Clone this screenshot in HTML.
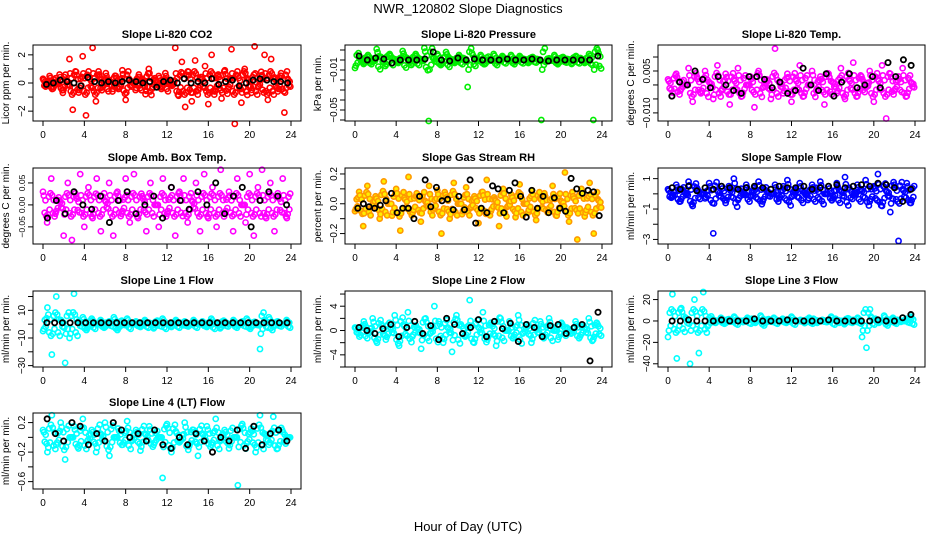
<!DOCTYPE html>
<html><head><meta charset="utf-8"><style>
body{margin:0;background:#fff}
svg{display:block;font-family:"Liberation Sans",sans-serif}
</style></head><body>
<svg id="c" width="936" height="540">
<text x="468" y="13" text-anchor="middle" font-size="13">NWR_120802  Slope Diagnostics</text>
<text x="468" y="531" text-anchor="middle" font-size="13">Hour of Day (UTC)</text>
</svg>
<script>
const xTicks=[0,4,8,12,16,20,24];
const co2Vals=[0.3,-0.2,0.5,-0.4,0.1,0.6,-0.7,0.2,1.7,-1.9,0.8,-0.5,1.9,-2.3,0.4,2.5,-1.3,0.6,-0.3,0.7,0.2,-0.6,0.5,-0.4,0.9,-1.2,0.3,0.1,-0.5,0.6,0.3,-0.8,1.0,-0.4,0.2,0.5,-0.3,0.7,0.1,-0.2,2.5,-0.9,1.5,-1.7,0.8,-1.3,1.6,-0.5,0.4,1.2,-1.5,2.0,-0.6,0.6,-1.1,0.9,-0.4,2.4,-2.9,0.5,-1.4,1.0,0.3,-0.7,2.6,-0.3,0.8,2.0,-1.2,1.7,0.4,-0.6,0.7,-2.1,0.3];
const co2Black=[-0.1,0,0.2,0.1,0,-0.2,0.4,0.1,0,0.1,0,0.1,0.2,0.1,0,0.1,-0.3,0.1,0.2,0,0.3,0,0.1,0,0.3,-0.1,0.1,0.2,-0.2,0,0.2,0.3,0.2,0.1,0.1,0];
const presVals=[-0.008,0.002,-0.004,0.005,-0.002,0.011,0.003,-0.006,0.006,0.001,-0.003,0.009,0.002,-0.005,0.006,0.001,0.012,-0.061,0.002,0.006,-0.004,0.008,0.001,-0.003,0.005,0.002,-0.027,0.007,0.001,0.005,-0.004,0.001,0.006,-0.002,0.004,0.001,0.005,-0.002,0.004,0.001,-0.003,0.003,0.001,-0.06,-0.002,0.001,0.005,-0.003,0.003,0.001,-0.004,0.004,0.002,-0.003,0.006,-0.06,0.01];
const presBlack=[0.004,0.0,0.002,0.001,-0.003,0.0,0.0,0.0,0.001,0.008,0.0,-0.001,0.002,0.0,0.001,0.0,0.0,0.0,0.001,0.0,0.0,0.001,0.0,-0.001,0.0,0.0,0.0,0.0,0.0,0.004];
const tempVals=[0.002,-0.004,0.004,-0.002,0.0,0.006,-0.006,0.003,-0.003,0.005,0.001,-0.005,0.007,-0.002,0.004,-0.007,0.002,0.006,-0.004,0.0,0.003,-0.008,0.005,-0.001,0.002,-0.005,0.013,0.001,-0.003,0.004,-0.006,0.002,0.007,-0.004,0.0,0.005,-0.002,0.003,-0.007,0.004,0.001,-0.003,0.006,-0.005,0.002,0.008,-0.004,0.003,-0.001,0.005,-0.006,0.002,0.007,-0.012,0.004,-0.002,0.003,0.006,-0.004,0.001];
const tempBlack=[-0.004,0.001,0.0,0.005,0.002,-0.001,0.003,0.0,-0.002,-0.003,0.003,0.003,0.002,-0.001,0.001,-0.003,-0.002,0.006,0.0,-0.002,0.004,-0.004,0.001,0.004,-0.001,0.0,0.003,-0.001,0.008,0.003,0.009,0.007];
const ambVals=[0.03,-0.04,0.06,-0.02,0.01,-0.07,0.05,-0.08,0.02,0.07,-0.05,0.04,-0.03,0.06,-0.06,0.01,0.05,-0.07,0.03,-0.02,0.06,-0.04,0.07,-0.03,0.02,-0.06,0.05,0.0,-0.05,0.06,-0.02,0.04,-0.07,0.03,0.06,-0.04,0.01,0.05,-0.06,0.07,-0.03,0.04,-0.05,0.08,-0.02,0.03,-0.06,0.06,0.0,-0.04,0.07,-0.07,0.04,0.08,-0.03,0.05,-0.06,0.02,0.06,-0.03];
const ambBlack=[-0.03,0.01,-0.02,0.03,0.0,-0.01,0.02,-0.04,0.01,0.03,-0.02,0.0,0.02,-0.03,0.04,0.01,-0.01,0.03,0.0,0.05,-0.02,0.02,0.04,-0.05,0.01,0.03,0.02,0.0];
const rhVals=[-0.05,0.08,-0.15,0.12,-0.02,0.05,-0.1,0.15,0.0,-0.08,0.1,-0.18,0.04,0.18,-0.06,0.07,-0.12,0.02,0.12,-0.04,0.09,-0.2,0.06,-0.1,0.14,0.0,-0.07,0.11,-0.03,0.05,-0.13,0.08,0.16,-0.05,0.03,-0.15,0.1,-0.02,0.06,-0.09,0.13,0.0,-0.06,0.09,-0.11,0.04,0.07,-0.04,0.12,-0.08,0.02,0.21,-0.12,0.05,-0.24,0.1,-0.06,0.14,-0.2,0.03];
const rhBlack=[-0.03,0.0,-0.02,-0.03,-0.01,0.02,0.07,-0.06,-0.03,-0.03,-0.1,0.05,0.16,-0.02,0.11,0.02,0.03,-0.04,0.05,-0.04,0.16,-0.13,-0.03,-0.06,0.12,0.1,-0.06,0.09,0.14,0.05,-0.09,0.09,-0.03,0.05,-0.06,0.04,-0.03,-0.05,0.17,0.1,0.07,0.09,0.08,-0.08];
const sfVals=[0.3,-0.2,0.6,-0.5,0.1,0.8,-0.8,0.4,0.0,-0.3,0.7,-2.6,0.2,0.5,-0.6,0.3,1.0,-0.4,0.1,0.6,-0.2,0.4,0.8,-0.5,0.2,0.0,0.6,-0.3,0.5,0.9,-0.2,0.3,0.7,0.1,-0.4,0.6,0.4,0.8,0.0,0.5,-0.3,0.7,0.2,1.1,0.4,-0.1,0.6,0.3,0.9,-0.5,0.5,1.3,-0.8,0.2,-1.2,0.6,-3.1,0.3,0.7,-0.6];
const sfBlack=[0.4,0.3,0.5,0.2,0.4,0.3,0.5,0.4,0.3,0.4,0.5,0.4,0.3,0.5,0.4,0.4,0.5,0.3,0.4,0.5,0.6,0.4,0.5,0.6,0.5,0.7,0.6,0.4,-0.5,0.3];
const l1Vals=[-5,12,-22,20,3,-28,-10,22,2,5,-3,4,0,3,-2,2,5,-3,1,4,0,2,-2,3,1,-3,2,4,0,-2,3,1,2,-1,3,0,2,-2,4,1,-3,2,0,3,-1,2,4,-2,1,-18,3,5,-2,2,0,3];
const l1Black=[1,1,1,1,1,1,1,1,1,1,1,1,1,1,1,1,1,1,1,1,1,1,1,1,1,1,1,1,1,1,1,1];
const l2Vals=[0.5,-1,1.5,-0.5,2,-2,1,-1.5,0.5,2.5,-2.5,1,3,-1,0.5,-3,2,-0.5,4,1.5,-2,0.5,-3.5,2.5,1,-1,5,-2,0.5,3,-1.5,1,-2.5,2,0,1.5,-1,2.5,-0.5,1,-2,0.5,1.5,-1,2,0,-1.5,1,0.5,-0.5,1.5,-1,0.5,2,-1.5,1];
const l2Black=[0.5,0,-0.5,0.3,1,-1,0.5,1.5,-0.5,0.8,-1.5,2,1,-0.5,0.5,1.8,-1,1.5,0.3,1.2,-1.8,1,0.5,-1,0.8,1,-0.5,0.5,1,-5,3];
const l3Vals=[-15,25,-35,12,3,-40,20,-30,27,-5,2,0,3,-2,1,4,0,-1,3,2,0,5,-2,1,3,0,2,-1,4,0,1,-2,3,2,0,1,-1,4,2,0,-3,2,1,3,-15,-25,4,2,0,5,-2,3,1,0,2,4];
const l3Black=[0,0,1,0,0,0,1,0,0,0,2,0,0,0,1,0,0,0,0,1,0,0,0,0,0,1,0,0,3,6];
const l4Vals=[0.1,-0.2,0.3,-0.1,0.2,-0.3,0.0,0.15,-0.15,0.25,-0.05,0.1,-0.2,0.05,0.2,-0.25,0.0,0.12,-0.1,0.22,-0.05,0.1,-0.18,0.05,0.15,-0.1,0.0,-0.55,0.18,-0.2,0.08,-0.05,0.2,-0.12,0.1,-0.25,0.05,0.15,-0.1,0.25,-0.05,0.1,-0.15,0.0,-0.65,0.18,-0.08,0.12,-0.2,0.3,0.05,-0.1,0.28,-0.15,0.1,0.0];
const l4Black=[0.25,0.05,-0.05,0.2,0.15,-0.1,0.05,-0.05,0.2,0.1,0.0,0.05,-0.05,0.1,-0.1,-0.15,0.0,-0.1,0.05,-0.05,-0.2,0.0,-0.05,0.1,-0.15,0.15,-0.1,0.05,0.1,-0.05];

const NS="http://www.w3.org/2000/svg";
const svg=document.getElementById('c');
function el(t,a,p){const e=document.createElementNS(NS,t);for(const k in a)e.setAttribute(k,a[k]);(p||svg).appendChild(e);return e;}
const cols=[[33,301],[345,612],[658,925]];
const rows=[45,168,291,413];
const H=76;
const panels=[
 {t:"Slope Li-820 CO2",yl:"Licor ppm per min.",r:0,c:0,lo:-2.7,hi:2.7,ticks:[-2,-1,0,1,2],labs:[-2,0,2],ls:["\u22122","0","2"],col:"#ff0000",v:co2Vals,b:co2Black},
 {t:"Slope Li-820 Pressure",yl:"kPa per min.",r:0,c:1,lo:-0.061,hi:0.015,ticks:[-0.06,-0.05,-0.04,-0.03,-0.02,-0.01,0,0.01],labs:[-0.01,-0.05],ls:["\u22120.01","\u22120.05"],col:"#00ee00",v:presVals,b:presBlack},
 {t:"Slope Li-820 Temp.",yl:"degrees C per min.",r:0,c:2,lo:-0.0129,hi:0.0143,ticks:[-0.01,-0.005,0,0.005,0.01],labs:[-0.01,0.005],ls:["\u22120.010","0.005"],col:"#ff00ff",v:tempVals,b:tempBlack},
 {t:"Slope Amb. Box Temp.",yl:"degrees C per min.",r:1,c:0,lo:-0.089,hi:0.084,ticks:[-0.05,0,0.05],labs:[-0.05,0,0.05],ls:["\u22120.05","0.00","0.05"],col:"#ff00ff",v:ambVals,b:ambBlack,fs:8.5},
 {t:"Slope Gas Stream RH",yl:"percent per min.",r:1,c:1,lo:-0.27,hi:0.24,ticks:[-0.2,-0.1,0,0.1,0.2],labs:[-0.2,0,0.2],ls:["\u22120.2","0.0","0.2"],col:"#ff9900",v:rhVals,b:rhBlack,rh:1},
 {t:"Slope Sample Flow",yl:"ml/min per min.",r:1,c:2,lo:-3.3,hi:1.7,ticks:[-3,-2,-1,0,1],labs:[-3,-1,1],ls:["\u22123","\u22121","1"],col:"#0000ff",v:sfVals,b:sfBlack},
 {t:"Slope Line 1 Flow",yl:"ml/min per min.",r:2,c:0,lo:-31,hi:24,ticks:[-30,-20,-10,0,10,20],labs:[-30,-10,10],ls:["\u221230","\u221210","10"],col:"#00ffff",v:l1Vals,b:l1Black},
 {t:"Slope Line 2 Flow",yl:"ml/min per min.",r:2,c:1,lo:-6,hi:6.5,ticks:[-6,-4,-2,0,2,4,6],labs:[-4,0,4],ls:["\u22124","0","4"],col:"#00ffff",v:l2Vals,b:l2Black},
 {t:"Slope Line 3 Flow",yl:"ml/min per min.",r:2,c:2,lo:-43,hi:28,ticks:[-40,-20,0,20],labs:[-40,-20,0,20],ls:["\u221240","\u221220","0","20"],col:"#00ffff",v:l3Vals,b:l3Black},
 {t:"Slope Line 4 (LT) Flow",yl:"ml/min per min.",r:3,c:0,lo:-0.7,hi:0.33,ticks:[-0.6,-0.4,-0.2,0,0.2],labs:[-0.6,-0.2,0.2],ls:["\u22120.6","\u22120.2","0.2"],col:"#00ffff",v:l4Vals,b:l4Black}
];
const spreads=[1,0.7,-0.6,0.35,-0.85];
panels.forEach((p,i)=>{
 const L=cols[p.c][0],R=cols[p.c][1],T=rows[p.r],B=T+H;
 const g=el('g',{});
 
 
 const xs=h=>L+10+h*(R-L-20)/24;
 const ys=v=>B-(v-p.lo)/(p.hi-p.lo)*H;
 const core=0.2*(p.hi-p.lo);
 const tt=el('text',{x:(L+R)/2,y:T-7,'text-anchor':'middle','font-size':11,'font-weight':'bold'},g);tt.textContent=p.t;
 
 const yl=el('text',{x:0,y:0,'text-anchor':'middle','font-size':10,transform:`translate(${L-24},${(T+B)/2}) rotate(-90)`},g);yl.textContent=p.yl;
 
 xTicks.forEach(h=>{el('line',{x1:xs(h),x2:xs(h),y1:B,y2:B+5,stroke:'#000'},g);
  const t=el('text',{x:xs(h),y:B+17,'text-anchor':'middle','font-size':10},g);t.textContent=h;
  });
 p.ticks.forEach(v=>{const y=ys(v);if(y>=T-0.5&&y<=B+0.5)el('line',{x1:L-5,x2:L,y1:y,y2:y,stroke:'#000'},g);});
 p.labs.forEach((v,k)=>{const t=el('text',{x:0,y:0,'text-anchor':'middle','font-size':p.fs||10,transform:`translate(${L-8},${ys(v)}) rotate(-90)`},g);t.textContent=p.ls[k];
  });
 const n=p.v.length;
 p.v.forEach((v,k)=>{
  spreads.forEach((f,j)=>{
   const h=(k+j/spreads.length)*24/n;
   const vv=j==0?v:(Math.abs(v)>core?Math.sign(v)*f*core*0.9:v*f);
   const c=el('circle',{cx:xs(h),cy:ys(vv),r:2.6,fill:p.rh?'#ffee00':'none',stroke:p.col,'stroke-width':1.6},g);
   
  });
 });
 const m=p.b.length;
 p.b.forEach((v,k)=>{
  const c=el('circle',{cx:xs((k+0.5)*24/m),cy:ys(v),r:2.6,fill:'none',stroke:'#000','stroke-width':1.8},g);
  
 });
 const box=el('rect',{x:L,y:T,width:R-L,height:H,fill:'none',stroke:'#000'},g);
 
});
</script>
</body></html>
